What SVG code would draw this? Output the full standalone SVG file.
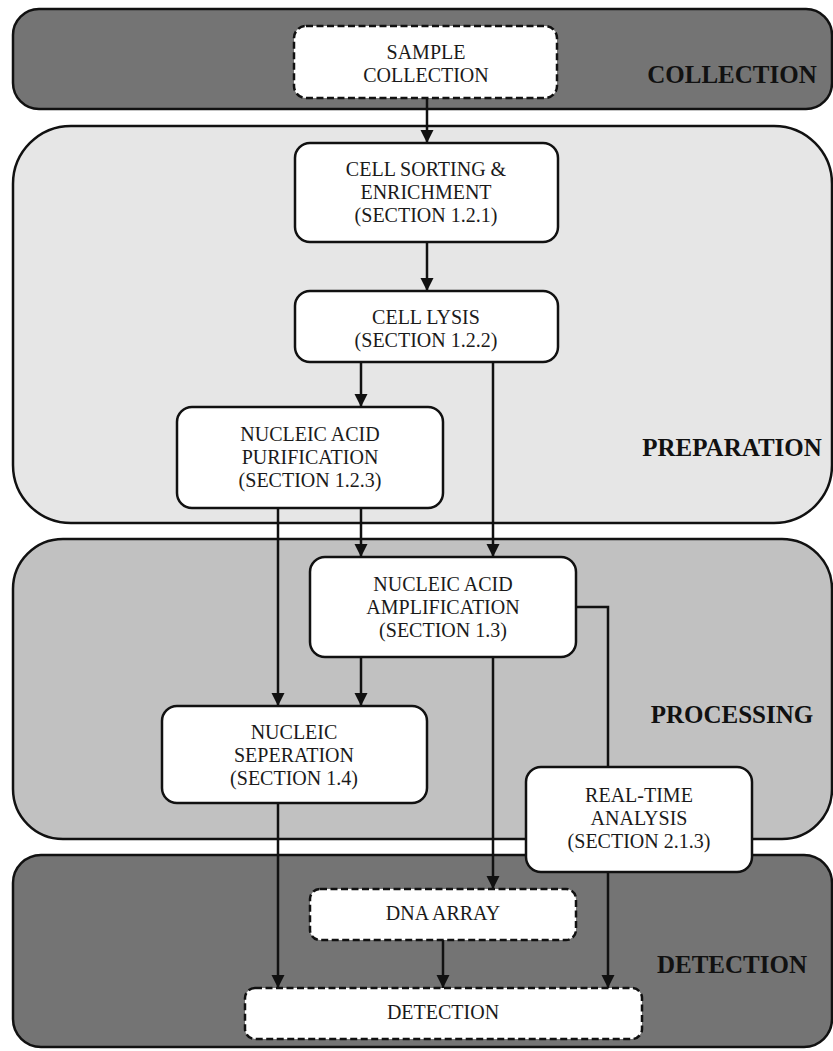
<svg xmlns="http://www.w3.org/2000/svg" width="833" height="1051" viewBox="0 0 833 1051">
<style>
.band{stroke:#111;stroke-width:2.5}
.node{fill:#fff;stroke:#111;stroke-width:2.5}
.dash{fill:#fff;stroke:#111;stroke-width:2.5;stroke-dasharray:7 3.5}
.t{font-family:"Liberation Serif","Times New Roman",serif;font-size:20px;fill:#1a1a1a;text-anchor:middle}
.lab{font-family:"Liberation Serif","Times New Roman",serif;font-size:25px;font-weight:bold;fill:#111;text-anchor:middle}
.c{fill:none;stroke:#111;stroke-width:2.5}
</style>
<defs>
<marker id="ah" markerUnits="userSpaceOnUse" markerWidth="14" markerHeight="14" refX="13" refY="7" orient="auto" viewBox="0 0 14 14">
<path d="M0,0.5 L13,7 L0,13.5 z" fill="#111"/>
</marker>
</defs>
<rect width="833" height="1051" fill="#fff"/>
<g id="bands">
<g id="band-collection"><rect class="band" x="13" y="9" width="819" height="100" rx="26" fill="#747474"/><text class="lab" x="732" y="83">COLLECTION</text></g>
<g id="band-preparation"><rect class="band" x="13" y="126" width="819" height="397" rx="58" fill="#e6e6e6"/><text class="lab" x="732" y="456">PREPARATION</text></g>
<g id="band-processing"><rect class="band" x="13" y="539" width="819" height="300" rx="50" fill="#c1c1c1"/><text class="lab" x="732" y="723">PROCESSING</text></g>
<g id="band-detection"><rect class="band" x="13" y="855" width="819" height="192" rx="28" fill="#747474"/><text class="lab" x="732" y="973">DETECTION</text></g>
</g>
<g id="connectors">
<line class="c" x1="427" y1="98" x2="427" y2="143" marker-end="url(#ah)"/>
<line class="c" x1="427" y1="242" x2="427" y2="291" marker-end="url(#ah)"/>
<line class="c" x1="361" y1="362" x2="361" y2="407" marker-end="url(#ah)"/>
<line class="c" x1="493" y1="362" x2="493" y2="557" marker-end="url(#ah)"/>
<line class="c" x1="361" y1="508" x2="361" y2="557" marker-end="url(#ah)"/>
<line class="c" x1="278" y1="508" x2="278" y2="706" marker-end="url(#ah)"/>
<line class="c" x1="361" y1="657" x2="361" y2="706" marker-end="url(#ah)"/>
<line class="c" x1="493" y1="657" x2="493" y2="889" marker-end="url(#ah)"/>
<polyline class="c" points="576,607 608,607 608,767"/>
<line class="c" x1="608" y1="872" x2="608" y2="988" marker-end="url(#ah)"/>
<line class="c" x1="278" y1="803" x2="278" y2="988" marker-end="url(#ah)"/>
<line class="c" x1="443" y1="940" x2="443" y2="988" marker-end="url(#ah)"/>
</g>
<g id="sample-collection"><rect class="dash" x="294" y="26" width="263" height="72" rx="12"/><text class="t" x="426" y="59">SAMPLE</text><text class="t" x="426" y="82">COLLECTION</text></g>
<g id="cell-sorting"><rect class="node" x="295" y="143" width="263" height="99" rx="15"/><text class="t" x="426" y="176">CELL SORTING &amp;</text><text class="t" x="426" y="199">ENRICHMENT</text><text class="t" x="426" y="222">(SECTION 1.2.1)</text></g>
<g id="cell-lysis"><rect class="node" x="295" y="291" width="263" height="71" rx="15"/><text class="t" x="426" y="324">CELL LYSIS</text><text class="t" x="426" y="347">(SECTION 1.2.2)</text></g>
<g id="purification"><rect class="node" x="177" y="407" width="266" height="101" rx="15"/><text class="t" x="310" y="441">NUCLEIC ACID</text><text class="t" x="310" y="464">PURIFICATION</text><text class="t" x="310" y="487">(SECTION 1.2.3)</text></g>
<g id="amplification"><rect class="node" x="310" y="557" width="266" height="100" rx="15"/><text class="t" x="443" y="591">NUCLEIC ACID</text><text class="t" x="443" y="614">AMPLIFICATION</text><text class="t" x="443" y="637">(SECTION 1.3)</text></g>
<g id="separation"><rect class="node" x="162" y="706" width="265" height="97" rx="15"/><text class="t" x="294" y="739">NUCLEIC</text><text class="t" x="294" y="762">SEPERATION</text><text class="t" x="294" y="785">(SECTION 1.4)</text></g>
<g id="real-time"><rect class="node" x="526" y="767" width="226" height="105" rx="15"/><text class="t" x="639" y="802">REAL-TIME</text><text class="t" x="639" y="825">ANALYSIS</text><text class="t" x="639" y="848">(SECTION 2.1.3)</text></g>
<g id="dna-array"><rect class="dash" x="310" y="889" width="266" height="51" rx="10"/><text class="t" x="443" y="920">DNA ARRAY</text></g>
<g id="detection"><rect class="dash" x="245" y="988" width="397" height="51" rx="10"/><text class="t" x="443" y="1019">DETECTION</text></g>
</svg>
